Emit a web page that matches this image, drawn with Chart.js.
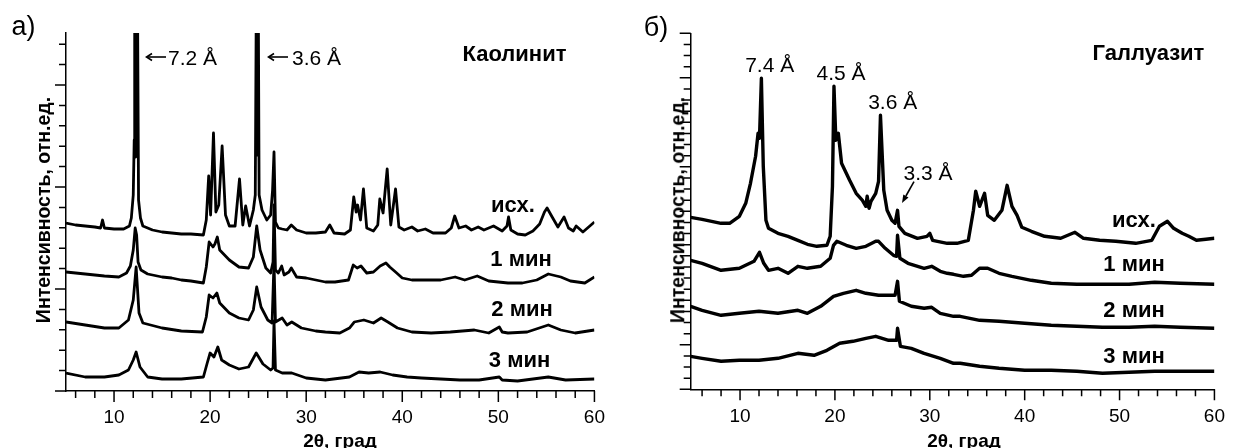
<!DOCTYPE html>
<html><head><meta charset="utf-8">
<script src="https://cdn.jsdelivr.net/npm/chart.js@4.4.0/dist/chart.umd.min.js"></script>
<style>
html,body{margin:0;padding:0;background:#fff;}
#wrap{position:relative;width:1241px;height:448px;overflow:hidden;font-family:"Liberation Sans",Arial,sans-serif;color:#000;}
canvas{position:absolute;top:0;}
.t{position:absolute;white-space:nowrap;line-height:1;transform:translate(-50%,-50%);}
.b{font-weight:bold;}
.yt{position:absolute;white-space:nowrap;line-height:1;font-weight:bold;font-size:19.5px;transform:translate(-50%,-50%) rotate(-90deg);}
svg{position:absolute;left:0;top:0;}
</style></head><body>
<div id="wrap">
<canvas id="ca" width="620" height="448" style="left:0;width:620px;height:448px"></canvas>
<canvas id="cb" width="621" height="448" style="left:620px;width:621px;height:448px"></canvas>

<div class="t" style="left:23.5px;top:26px;font-size:27px">а)</div>
<div class="t" style="left:192.5px;top:57px;font-size:21px">7.2 Å</div>
<div class="t" style="left:316.5px;top:57px;font-size:21px">3.6 Å</div>
<div class="t b" style="left:514.5px;top:53.5px;font-size:22px">Каолинит</div>
<div class="t b" style="left:513px;top:205px;font-size:22px">исх.</div>
<div class="t b" style="left:521px;top:259px;font-size:22px">1 мин</div>
<div class="t b" style="left:522px;top:309px;font-size:22px">2 мин</div>
<div class="t b" style="left:519.5px;top:360px;font-size:22px">3 мин</div>
<div class="yt" style="left:43.5px;top:209.5px">Интенсивность, отн.ед.</div>
<div class="t b" style="left:340px;top:440px;font-size:19px">2θ, град</div>

<div class="t" style="left:656px;top:27px;font-size:27px">б)</div>
<div class="t" style="left:769.7px;top:64px;font-size:21px">7.4 Å</div>
<div class="t" style="left:841px;top:71.5px;font-size:21px">4.5 Å</div>
<div class="t" style="left:892.7px;top:101px;font-size:21px">3.6 Å</div>
<div class="t" style="left:928px;top:171.5px;font-size:21px">3.3 Å</div>
<div class="t b" style="left:1148.5px;top:53.3px;font-size:22px">Галлуазит</div>
<div class="t b" style="left:1134px;top:219.6px;font-size:22px">исх.</div>
<div class="t b" style="left:1134px;top:264px;font-size:22px">1 мин</div>
<div class="t b" style="left:1134px;top:310px;font-size:22px">2 мин</div>
<div class="t b" style="left:1134px;top:356px;font-size:22px">3 мин</div>
<div class="yt" style="left:677.5px;top:209.5px">Интенсивность, отн.ед.</div>
<div class="t b" style="left:964px;top:440px;font-size:19px">2θ, град</div>

<svg width="1241" height="448">
  <g stroke="#000" stroke-width="1.6" fill="none">
    <line x1="147" y1="57" x2="166" y2="57"/>
    <polyline points="152,53.5 146.5,57 152,60.5"/>
    <line x1="269" y1="57" x2="288" y2="57"/>
    <polyline points="274,53.5 268.5,57 274,60.5"/>
    <line x1="914" y1="181.7" x2="905.9" y2="196"/>
  </g>
  <polygon points="902,203 908.5,197.5 903.3,194.5" fill="#000"/>
</svg>
</div>

<script>
// ---- Data: [2θ (deg), intensity (arb. units, stacked as plotted)] ----
// Kaolinite (panel а)
const kaoIsx = [[5,168],[6,166],[7,165],[8,164],[8.6,163],[8.8,171],[9.0,163],[10,162],[11,162],[11.6,165],[11.8,173],[12.0,196],[12.1,251],[12.15,380],[12.25,234],[12.3,380],[12.37,240],[12.45,380],[12.55,191],[12.75,173],[13,165],[14,161],[15,159],[16,158],[17,157],[18,157],[19.3,156],[19.6,171],[19.85,215],[20.05,176],[20.35,258],[20.6,179],[20.9,186],[21.25,245],[21.6,176],[22,165],[22.6,165],[23.06,212],[23.4,166],[23.7,185],[24.1,165],[24.5,181],[24.7,196],[24.8,380],[24.87,236],[24.92,380],[24.97,240],[25.02,380],[25.1,196],[25.4,181],[25.9,171],[26.3,176],[26.5,201],[26.65,239],[26.8,169],[27.1,163],[27.5,162],[28,161],[28.45,166],[29,161],[30,158],[31,158],[32,159],[32.45,166],[32.9,158],[34,157],[34.6,161],[34.95,194],[35.2,179],[35.35,186],[35.65,171],[35.96,202],[36.3,163],[37,160],[37.45,166],[37.66,192],[38,178],[38.43,222],[38.8,166],[39.3,202],[39.65,164],[40.2,161],[41,164],[41.6,160],[42.4,162],[43.2,158],[44.5,158],[45.1,163],[45.46,175],[45.9,163],[46.6,165],[47.2,161],[47.9,164],[48.5,161],[49.5,165],[50.4,160],[50.9,165],[51.06,174],[51.3,161],[52,157],[52.8,156],[53.6,160],[54.3,167],[54.8,179],[55.07,183],[55.6,174],[56.2,164],[56.84,174],[57.3,163],[57.8,160],[58.1,165],[58.8,159],[59.4,164],[60,169]];
const kao1min = [[5,119],[6,118],[7,117],[8,116],[9,115],[10.5,114],[11.3,118],[11.7,125],[12,141],[12.2,163],[12.35,156],[12.5,129],[12.8,121],[13.5,117],[15,114],[16,113],[17,111],[18,110],[19.3,108],[19.6,124],[19.9,149],[20.3,144],[20.5,147],[20.75,154],[21,141],[21.5,136],[22,131],[23,124],[24,123],[24.5,134],[24.85,165],[25.2,141],[25.8,123],[26.3,118],[26.55,129],[26.65,186],[26.8,121],[27.1,118],[27.45,125],[27.7,116],[28.2,119],[28.45,123],[29,114],[30,113],[31,111],[32,109],[33,109],[34.4,111],[34.9,126],[35.3,123],[35.7,125],[36.3,118],[37,119],[37.7,125],[38.3,128],[38.7,124],[39.3,119],[40,113],[41,111],[42,111],[44,111],[45.5,114],[46.5,111],[47.8,115],[49,110],[50,109],[51,108],[52.5,108],[54,111],[55.2,117],[56.5,114],[57.5,110],[59,108],[60,114]];
const kao2min = [[5,69],[7,66],[9,63],[10.5,63],[11.5,71],[12,91],[12.3,124],[12.6,78],[13,68],[15,63],[17,60],[19.2,59],[19.6,74],[19.9,96],[20.3,93],[20.7,98],[21,88],[22,78],[23,73],[24,71],[24.5,81],[24.85,104],[25.3,84],[26,71],[26.45,68],[26.65,129],[26.8,69],[27.5,73],[28,66],[28.5,69],[29.5,63],[31,60],[32,59],[33.5,58],[34.5,63],[35,69],[36,71],[37,68],[37.8,73],[38.5,69],[39.5,63],[41,59],[43,58],[45,59],[47.5,61],[49,58],[50.1,64],[50.4,59],[51,58],[53,59],[55.2,66],[56.5,61],[58,58],[60,61]];
const kao3min = [[5,18],[7,14],[9,14],[10.5,16],[11.5,21],[12,31],[12.3,39],[12.7,24],[13.5,14],[15,12],[17,12],[19.3,14],[19.7,28],[20,38],[20.4,34],[20.8,44],[21.2,31],[22,26],[23,22],[24,24],[24.8,38],[25.5,27],[26.3,21],[26.55,23],[26.65,70],[26.8,21],[27.5,18],[28.5,18],[30,13],[32,11],[34.5,14],[35.5,19],[36.5,18],[37.7,19],[39,16],[40.5,14],[42,13],[44,12],[46,11],[48,11],[50.1,14],[50.4,11],[52,10],[55.2,14],[57,11],[60,12]];
// Halloysite (panel б)
const halIsx = [[4.8,172],[6,170],[7,168],[8,166],[8.9,166],[9.93,173],[10.6,186],[11.1,206],[11.64,233],[11.9,256],[12.05,251],[12.25,311],[12.45,223],[12.73,169],[13,161],[14,156],[15.06,153],[16.1,149],[17.1,145],[18.1,143],[19.16,144],[19.5,153],[19.74,203],[19.9,303],[20.1,249],[20.36,256],[20.7,226],[21.2,216],[21.55,209],[22.24,196],[22.9,189],[23.26,183],[23.4,193],[23.6,181],[23.8,188],[24.3,196],[24.6,208],[24.8,274],[25.15,199],[25.5,179],[26,169],[26.34,166],[26.6,179],[26.75,163],[27.37,156],[28.7,151],[29.7,153],[30,156],[30.3,149],[30.8,148],[31.84,146],[32.86,146],[34.06,149],[34.6,179],[34.84,198],[35.25,183],[35.77,196],[36.1,174],[36.8,169],[37.6,179],[38.15,204],[38.66,183],[39.2,174],[39.7,162],[40.7,158],[42.1,153],[43.8,151],[45.3,157],[46.2,151],[47.9,149],[49.6,148],[51.7,146],[53.4,149],[54.2,163],[55.05,168],[55.7,161],[56.6,156],[57.3,153],[58.1,149],[59.1,150],[60,151]];
const hal1min = [[4.8,129],[6,126],[8,119],[9.93,121],[11.47,128],[12.05,137],[12.5,126],[13,119],[14,121],[15.06,116],[16.1,123],[17.1,121],[18.5,123],[19.5,131],[19.85,144],[20.2,148],[21.2,144],[22.24,141],[23.26,143],[24.3,148],[24.6,148],[25.3,141],[26.17,134],[26.5,133],[26.6,154],[26.85,131],[27.7,126],[29.4,121],[30.2,123],[31.1,118],[31.84,116],[32.5,115],[33.55,113],[34.4,114],[35.25,121],[36.1,121],[37.3,116],[38.66,113],[40.7,109],[42.8,106],[45.5,105],[48.2,105],[51,105],[53.7,107],[56.4,106],[60,105]];
const hal2min = [[4.8,83],[6,79],[8,74],[9.93,76],[12,78],[14,76],[16.1,79],[17.1,76],[18.5,83],[19.85,93],[20.9,96],[22.24,99],[23.26,96],[24.6,94],[26.34,94],[26.6,108],[26.8,88],[28.05,83],[29.4,81],[30.2,82],[31.1,76],[32.5,73],[33.2,73],[35.25,69],[37.3,68],[40,66],[42.8,64],[45.5,63],[48.2,62],[51,62],[53.7,63],[56.4,62],[60,61]];
const hal3min = [[4.8,33],[6,31],[8,28],[9.93,29],[12,29],[14,31],[16.1,36],[17.8,34],[19.16,39],[20.5,46],[21.9,48],[23.26,51],[24.3,53],[25.66,49],[26.5,49],[26.6,61],[26.9,43],[28.05,41],[29.4,36],[31.1,31],[32.5,26],[33.2,26],[35.25,23],[37.3,21],[40,19],[42.8,19],[45.5,18],[48.2,16],[51,17],[53.7,18],[56.4,18],[60,18]];

// x tick labels shown every 10 degrees
const xTickLabels = [10, 20, 30, 40, 50, 60];

Chart.defaults.font.family = '"Liberation Sans", Arial, sans-serif';
Chart.defaults.color = '#000';

const tickMarks = {
  id: 'tickMarks',
  afterDraw(chart, args, o) {
    const ctx = chart.ctx, ca = chart.chartArea;
    const xs = chart.scales.x, ys = chart.scales.y;
    ctx.save();
    ctx.strokeStyle = '#000';
    ctx.lineWidth = 1.5;
    ctx.beginPath();
    xs.ticks.forEach(t => {
      const px = xs.getPixelForValue(t.value);
      const len = xTickLabels.includes(t.value) ? o.xMajor : o.xMinor;
      ctx.moveTo(px, ca.bottom);
      ctx.lineTo(px, ca.bottom + len);
    });
    ys.ticks.forEach((t, i) => {
      const py = ys.getPixelForValue(t.value);
      const len = (i % o.yEvery === 0) ? o.yMajor : o.yMinor;
      ctx.moveTo(ca.left, py);
      ctx.lineTo(ca.left - len, py);
    });
    ctx.stroke();
    ctx.restore();
  }
};

function makeChart(id, seriesList, cfg) {
  const datasets = seriesList.map(s => ({
    data: s.map(p => ({x: p[0], y: p[1]})),
    borderColor: '#000',
    borderWidth: cfg.lw,
    pointRadius: 0,
    tension: 0,
    borderJoinStyle: 'round',
    clip: 0
  }));
  return new Chart(document.getElementById(id), {
    type: 'line',
    data: {datasets},
    plugins: [tickMarks],
    options: {
      responsive: false, animation: false, devicePixelRatio: 1,
      layout: {padding: cfg.pad},
      plugins: {legend: {display: false}, tooltip: {enabled: false},
        tickMarks: {xMajor: 11, xMinor: 7, yMajor: 11, yMinor: 7, yEvery: cfg.yEvery}},
      scales: {
        x: {
          type: 'linear', min: cfg.xMin, max: 60,
          afterFit(s) { s.height = 50; },
          grid: {display: true, drawOnChartArea: false, drawTicks: false},
          border: {display: true, color: '#000', width: 1.5},
          ticks: {stepSize: 2, includeBounds: false, autoSkip: false, maxRotation: 0, minRotation: 0,
            padding: cfg.tickPad, color: '#000', font: {size: 19},
            callback: v => xTickLabels.includes(v) ? String(v) : ''}
        },
        y: {
          type: 'linear', min: 0, max: cfg.yMax,
          afterFit(s) { s.width = 20; },
          grid: {display: true, drawOnChartArea: false, drawTicks: false},
          border: {display: true, color: '#000', width: 1.5},
          ticks: {stepSize: cfg.yStep, includeBounds: false, display: false}
        }
      }
    }
  });
}

makeChart('ca', [kaoIsx, kao1min, kao2min, kao3min],
  {lw: 2.8, xMin: 5, yMax: 358, yStep: 20.4, yEvery: 5, tickPad: 15,
   pad: {left: 46, top: 33, right: 14, bottom: 7}});
makeChart('cb', [halIsx, hal1min, hal2min, hal3min],
  {lw: 3.4, xMin: 4.8, yMax: 356, yStep: 11.125, yEvery: 4, tickPad: 16,
   pad: {left: 50.7, top: 33.3, right: 11, bottom: 8.7}});
</script>
</body></html>
